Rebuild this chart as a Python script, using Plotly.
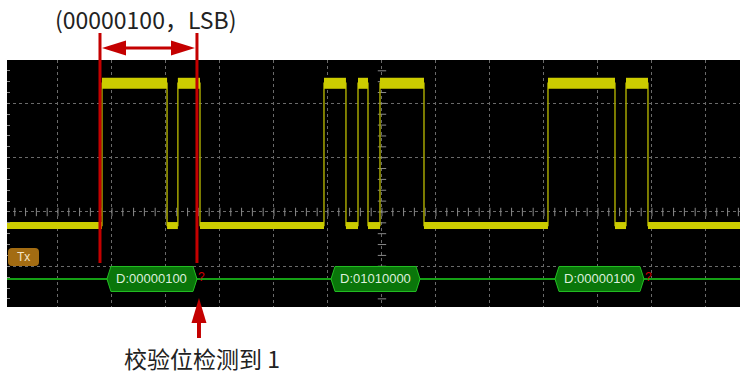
import plotly.graph_objects as go
import numpy as np

# スクリーン (div単位) : 横 1div=54px 中心x=382px, 縦 1div=54.3px 中心y=212px
X_RANGE = [-6.944, 6.630]
Y_RANGE = [-1.750, 2.799]

# 波形レベル (div)
LOW = -0.25
HIGH = 2.37
# エッジ位置 (div) 立上り/立下りの交互
edges = [-5.185, -3.98, -3.78, -3.37,
         -1.074, -0.667, -0.444, -0.259, -0.037, 0.778,
         3.074, 4.315, 4.519, 4.926]

# デコード結果
frame_start = [-5.093, -0.944, 3.204]
frame_end = [-3.426, 0.704, 4.852]
frame_text = ["D:00000100", "D:01010000", "D:00000100"]
parity_err = [True, False, True]
BUS_Y = -1.234

# 注釈
cursor_x = [-5.222, -3.426]
title_text = "(00000100，LSB)"
note_text = "校验位检测到 1"

W, H = 740, 375
L, T, B = 7, 60, 68
PW, PH = W - L, H - T - B


def px(x):  # pixel -> paper x
    return (x - L) / PW


def py(y):  # pixel -> paper y
    return (H - B - y) / PH


fig = go.Figure()

# 中心線の目盛り
tx = np.arange(-6.8, 6.7, 0.2)
ty = np.arange(-1.6, 2.8, 0.2)
fig.add_trace(go.Scatter(x=tx, y=[0] * len(tx), mode='markers',
                         marker=dict(symbol='line-ns', size=6,
                                     line=dict(width=1, color='#8a8a8a')),
                         hoverinfo='skip'))
fig.add_trace(go.Scatter(x=[0] * len(ty), y=ty, mode='markers',
                         marker=dict(symbol='line-ew', size=6,
                                     line=dict(width=1, color='#8a8a8a')),
                         hoverinfo='skip'))

# 波形 (細いエッジ)
wx, wy = [X_RANGE[0]], [LOW]
level = LOW
for e in edges:
    new = HIGH if level == LOW else LOW
    wx += [e, e]
    wy += [level, new]
    level = new
wx.append(X_RANGE[1])
wy.append(LOW)
fig.add_trace(go.Scatter(x=wx, y=wy, mode='lines',
                         line=dict(color='#a4a400', width=1.5),
                         hoverinfo='skip'))

# 波形 (太いレベル部分)
hx, hy = [], []
for r, f in zip(edges[0::2], edges[1::2]):
    hx += [r, f, None]
    hy += [HIGH, HIGH, None]
lo_pts = [X_RANGE[0]] + edges + [X_RANGE[1]]
lx, ly = [], []
for a, b in zip(lo_pts[0::2], lo_pts[1::2]):
    lx += [a, b, None]
    ly += [LOW, LOW, None]
fig.add_trace(go.Scatter(x=hx, y=hy, mode='lines',
                         line=dict(color='#cccc00', width=11),
                         hoverinfo='skip'))
fig.add_trace(go.Scatter(x=lx, y=ly, mode='lines',
                         line=dict(color='#cccc00', width=7),
                         hoverinfo='skip'))

# バス
fig.add_trace(go.Scatter(x=X_RANGE, y=[BUS_Y, BUS_Y], mode='lines',
                         line=dict(color='#15a015', width=2),
                         hoverinfo='skip'))
h, t = 0.23, 0.074
bx, by = [], []
for s, e in zip(frame_start, frame_end):
    bx += [s, s + t, e - t, e, e - t, s + t, s, None]
    by += [BUS_Y, BUS_Y + h, BUS_Y + h, BUS_Y, BUS_Y - h, BUS_Y - h, BUS_Y, None]
fig.add_trace(go.Scatter(x=bx, y=by, mode='lines', fill='toself',
                         fillcolor='#0a760a',
                         line=dict(color='#22c022', width=1),
                         hoverinfo='skip'))

annotations = []
for s, e, txt, err in zip(frame_start, frame_end, frame_text, parity_err):
    annotations.append(dict(x=(s + e) / 2, y=BUS_Y, xref='x', yref='y',
                            text=txt, showarrow=False,
                            xanchor='center', yanchor='middle',
                            font=dict(family='Liberation Sans', size=13,
                                      color='#dcefdc')))
    if err:
        annotations.append(dict(x=e + 0.08, y=BUS_Y + 0.04, xref='x', yref='y',
                                text='?', showarrow=False,
                                xanchor='center', yanchor='middle',
                                font=dict(family='Liberation Sans', size=12,
                                          color='#cc0000')))

# Tx ラベル
x0, x1, y0, y1 = px(8), px(39), py(266), py(248)
rx, ry = 4 / PW, 4 / PH
tx_path = (f"M{x0+rx},{y0} L{x1-rx},{y0} Q{x1},{y0} {x1},{y0+ry} "
           f"L{x1},{y1-ry} Q{x1},{y1} {x1-rx},{y1} L{x0+rx},{y1} "
           f"Q{x0},{y1} {x0},{y1-ry} L{x0},{y0+ry} Q{x0},{y0} {x0+rx},{y0} Z")
shapes = [dict(type='path', path=tx_path, xref='paper', yref='paper',
               fillcolor='#a36c12', line=dict(width=0), layer='above')]
annotations.append(dict(x=px(23.5), y=py(257), xref='paper', yref='paper',
                        text='Tx', showarrow=False,
                        xanchor='center', yanchor='middle',
                        font=dict(family='Liberation Sans', size=12,
                                  color='#f5e6c8')))

# カーソル (赤線)
for cx in cursor_x:
    shapes.append(dict(type='line', xref='x', yref='paper', x0=cx, x1=cx,
                       y0=py(263), y1=py(33),
                       line=dict(color='#c40000', width=3), layer='above'))

# 両矢印
ay = py(48)
hl = 24 / 54
hh = 7.5 / PH
a0 = cursor_x[0] + 2 / 54
a1 = cursor_x[1] - 2 / 54
shapes.append(dict(type='line', xref='x', yref='paper', x0=a0 + hl * 0.8, x1=a1 - hl * 0.8,
                   y0=ay, y1=ay, line=dict(color='#c40000', width=3), layer='above'))
shapes.append(dict(type='path', xref='x', yref='paper',
                   path=f"M{a0},{ay} L{a0+hl},{ay+hh} L{a0+hl},{ay-hh} Z",
                   fillcolor='#c40000', line=dict(width=0), layer='above'))
shapes.append(dict(type='path', xref='x', yref='paper',
                   path=f"M{a1},{ay} L{a1-hl},{ay+hh} L{a1-hl},{ay-hh} Z",
                   fillcolor='#c40000', line=dict(width=0), layer='above'))

# 下の上向き矢印
ux = cursor_x[1] + 2 / 54
uw = 7.5 / 54
shapes.append(dict(type='path', xref='x', yref='paper',
                   path=f"M{ux},{py(298)} L{ux+uw},{py(323)} L{ux-uw},{py(323)} Z",
                   fillcolor='#c40000', line=dict(width=0), layer='above'))
shapes.append(dict(type='line', xref='x', yref='paper', x0=ux, x1=ux,
                   y0=py(338), y1=py(322),
                   line=dict(color='#c40000', width=4), layer='above'))

annotations.append(dict(x=px(145), y=py(19), xref='paper', yref='paper',
                        text=title_text, showarrow=False,
                        xanchor='center', yanchor='middle',
                        font=dict(family='Noto Sans CJK SC', size=23, color='#222222')))
annotations.append(dict(x=px(202), y=py(358), xref='paper', yref='paper',
                        text=note_text, showarrow=False,
                        xanchor='center', yanchor='middle',
                        font=dict(family='Noto Sans CJK SC', size=23, color='#222222')))

fig.update_layout(
    width=W, height=H,
    margin=dict(l=L, r=0, t=T, b=B),
    paper_bgcolor='white',
    plot_bgcolor='black',
    showlegend=False,
    shapes=shapes,
    annotations=annotations,
    xaxis=dict(range=X_RANGE, dtick=1, tick0=0, showgrid=True,
               gridcolor='#6a6a6a', griddash='dot', gridwidth=1,
               zeroline=False, showticklabels=False, ticks=''),
    yaxis=dict(range=Y_RANGE, dtick=1, tick0=0, showgrid=True,
               gridcolor='#6a6a6a', griddash='dot', gridwidth=1,
               zeroline=False, showticklabels=False,
               ticks='inside', ticklen=3, tickcolor='#8a8a8a',
               minor=dict(dtick=0.2, ticks='inside', ticklen=3,
                          tickcolor='#8a8a8a', showgrid=False)),
)

fig.write_html("out.html", config={'displayModeBar': False},
               post_script="document.body.style.margin='0';")
